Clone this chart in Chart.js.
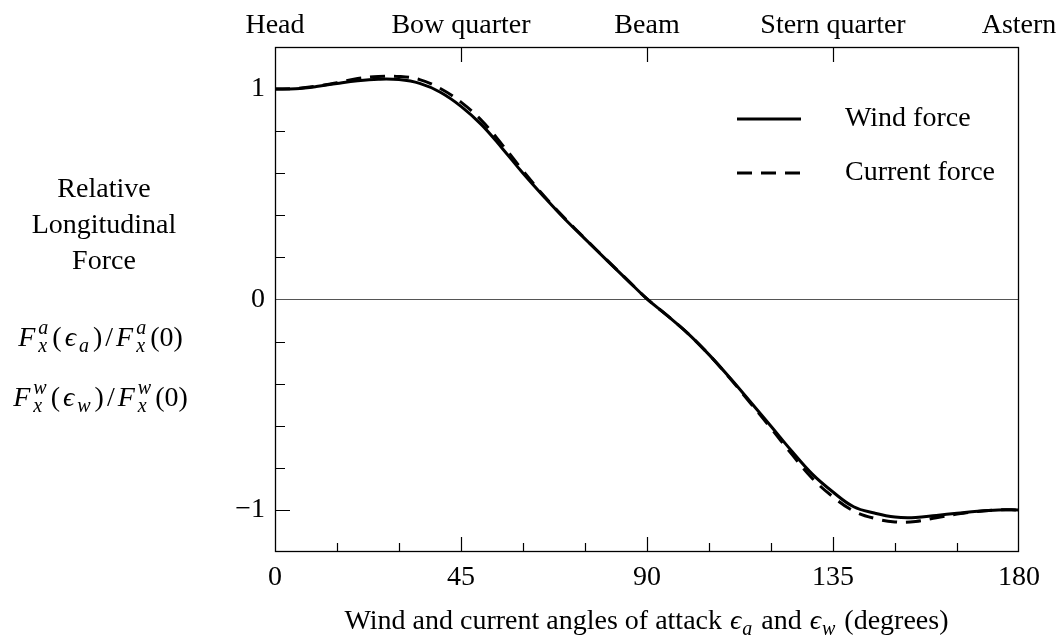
<!DOCTYPE html>
<html>
<head>
<meta charset="utf-8">
<title>Relative longitudinal force</title>
<script src="https://cdn.jsdelivr.net/npm/chart.js@4.4.1/dist/chart.umd.min.js"></script>
<style>
    html, body { margin: 0; padding: 0; background: #fff; }
    #wrap { width: 1063px; height: 642px; }
</style>
</head>
<body>
<div id="wrap"><canvas id="forceChart" width="1063" height="642"></canvas></div>
<script>
// angle of attack (degrees)
var angles = [0, 5, 10, 15, 20, 25, 30, 35, 40, 45, 50, 55, 60, 65, 70, 75, 80, 85, 90,
    95, 100, 105, 110, 115, 120, 125, 130, 135, 140, 145, 150, 155, 160, 165, 170, 175, 180];

// relative longitudinal wind force
var windForce = [1.000, 1.002, 1.012, 1.027, 1.040, 1.047, 1.045, 1.027, 0.985, 0.918,
    0.830, 0.718, 0.600, 0.490, 0.385, 0.288, 0.192, 0.097, 0.003,
    -0.078, -0.163, -0.262, -0.371, -0.486, -0.602, -0.720, -0.830, -0.915, -0.985,
    -1.015, -1.034, -1.036, -1.026, -1.016, -1.006, -1.000, -1.000];

// relative longitudinal current force
var currentForce = [1.000, 1.003, 1.014, 1.030, 1.050, 1.060, 1.060, 1.045, 1.003, 0.938,
    0.850, 0.735, 0.612, 0.494, 0.388, 0.290, 0.193, 0.098, 0.003,
    -0.078, -0.163, -0.262, -0.373, -0.492, -0.612, -0.735, -0.850, -0.938, -1.005,
    -1.040, -1.057, -1.055, -1.037, -1.020, -1.007, -1.000, -1.000];

var seriesNames = ['Wind force', 'Current force'];
var bottomTicks = [0, 45, 90, 135, 180];
var headingLabels = ['Head', 'Bow quarter', 'Beam', 'Stern quarter', 'Astern'];
var yTickLabels = [-1, 0, 1];
var yLabelLines = ['Relative', 'Longitudinal', 'Force'];

var SERIF = '"Liberation Serif", "Times New Roman", "DejaVu Serif", serif';
var FONT_SIZE = 28;

Chart.defaults.font.family = SERIF;
Chart.defaults.font.size = FONT_SIZE;
Chart.defaults.color = '#000';

function toPoints(values) {
    return angles.map(function (a, i) {
        return { x: a, y: values[i] };
    });
}

// draws a row of text pieces, with sub/superscripts, centred on cx
function drawRuns(ctx, runs, cx, base, gap) {
    var big = FONT_SIZE, small = 20;
    gap = gap || 0;
    function font(italic, size) {
        return (italic ? 'italic ' : '') + size + 'px ' + SERIF;
    }
    function width(r) {
        if (r.t !== undefined) {
            ctx.font = font(r.i, big);
            return ctx.measureText(r.t).width + gap;
        }
        ctx.font = font(true, small);
        var w1 = r.sup ? ctx.measureText(r.sup).width : 0;
        var w2 = r.sub ? ctx.measureText(r.sub).width : 0;
        return Math.max(w1, w2) + 1 + gap;
    }
    var total = 0;
    runs.forEach(function (r) { r.w = width(r); total += r.w; });
    var x = cx - total / 2;
    ctx.textAlign = 'left';
    ctx.textBaseline = 'alphabetic';
    ctx.fillStyle = '#000';
    runs.forEach(function (r) {
        if (r.t !== undefined) {
            ctx.font = font(r.i, big);
            ctx.fillText(r.t, x, base);
        } else {
            ctx.font = font(true, small);
            if (r.sup) ctx.fillText(r.sup, x, base - 12);
            if (r.sub) ctx.fillText(r.sub, x, base + 6);
        }
        x += r.w;
    });
}

function ratioRuns(letter) {
    return [
        { t: 'F', i: true }, { sup: letter, sub: 'x' },
        { t: '(' }, { t: '\u03F5', i: true }, { sub: letter },
        { t: ')' }, { t: '/' },
        { t: 'F', i: true }, { sup: letter, sub: 'x' },
        { t: '(0)' }
    ];
}

// box, inward ticks, titles and legend
var decorPlugin = {
    id: 'decor',
    afterDraw: function (chart) {
        var ctx = chart.ctx;
        var a = chart.chartArea;
        var xs = chart.scales.x, ys = chart.scales.y;
        ctx.save();
        ctx.strokeStyle = '#000';
        ctx.lineWidth = 1.3;
        ctx.strokeRect(a.left + 0.5, a.top + 0.5, a.right - a.left - 1, a.bottom - a.top - 1);

        ctx.lineWidth = 1.2;
        ctx.beginPath();
        for (var v = 15; v < 180; v += 15) {
            var px = Math.round(xs.getPixelForValue(v)) + 0.5;
            var major = bottomTicks.indexOf(v) >= 0;
            ctx.moveTo(px, a.bottom);
            ctx.lineTo(px, a.bottom - (major ? 15 : 9));
            if (major) {
                ctx.moveTo(px, a.top);
                ctx.lineTo(px, a.top + 15);
            }
        }
        for (var k = -5; k <= 5; k++) {
            if (k === 0) continue;
            var py = Math.round(ys.getPixelForValue(k * 0.2)) + 0.5;
            ctx.moveTo(a.left, py);
            ctx.lineTo(a.left + (Math.abs(k) === 5 ? 15 : 10), py);
        }
        ctx.stroke();

        // y title
        ctx.font = FONT_SIZE + 'px ' + SERIF;
        ctx.textAlign = 'center';
        ctx.textBaseline = 'alphabetic';
        ctx.fillStyle = '#000';
        yLabelLines.forEach(function (line, i) {
            ctx.fillText(line, 104, 197 + i * 36);
        });
        drawRuns(ctx, ratioRuns('a'), 102, 346, 3);
        drawRuns(ctx, ratioRuns('w'), 102, 406, 3);

        // x title
        drawRuns(ctx, [
            { t: 'Wind and current angles of attack ' },
            { t: '\u03F5', i: true }, { sub: 'a' },
            { t: ' and ' },
            { t: '\u03F5', i: true }, { sub: 'w' },
            { t: ' (degrees)' }
        ], (a.left + a.right) / 2, 629, 1);

        // legend
        chart.data.datasets.forEach(function (ds, i) {
            var ly = 119 + i * 54;
            ctx.beginPath();
            ctx.lineWidth = ds.borderWidth;
            ctx.setLineDash(ds.borderDash || []);
            ctx.moveTo(737, ly);
            ctx.lineTo(801, ly);
            ctx.stroke();
            ctx.setLineDash([]);
            ctx.font = FONT_SIZE + 'px ' + SERIF;
            ctx.textAlign = 'left';
            ctx.textBaseline = 'middle';
            ctx.fillText(ds.label, 845, ly);
        });
        ctx.restore();
    }
};

function fixSize(prop, size) {
    return function (scale) {
        scale[prop] = size;
        scale.paddingLeft = 0;
        scale.paddingRight = 0;
        scale.paddingTop = 0;
        scale.paddingBottom = 0;
    };
}

var ctx = document.getElementById('forceChart').getContext('2d');
var forceChart = new Chart(ctx, {
    type: 'line',
    data: {
        datasets: [{
            label: seriesNames[0],
            data: toPoints(windForce),
            borderColor: '#000',
            borderWidth: 3,
            pointRadius: 0,
            tension: 0.4,
            fill: false
        }, {
            label: seriesNames[1],
            data: toPoints(currentForce),
            borderColor: '#000',
            borderWidth: 3,
            borderDash: [15, 9],
            pointRadius: 0,
            tension: 0.4,
            fill: false
        }]
    },
    options: {
        responsive: false,
        animation: false,
        devicePixelRatio: 1,
        layout: { padding: { left: 0, right: 44, top: 0, bottom: 0 } },
        plugins: {
            legend: { display: false },
            tooltip: { enabled: false }
        },
        scales: {
            x: {
                type: 'linear',
                position: 'bottom',
                min: 0,
                max: 180,
                border: { display: false },
                grid: { display: false, drawTicks: false },
                ticks: {
                    stepSize: 15,
                    autoSkip: false,
                    maxRotation: 0,
                    padding: 9,
                    callback: function (v) {
                        return bottomTicks.indexOf(v) >= 0 ? String(v) : '';
                    }
                },
                afterFit: fixSize('height', 90)
            },
            x2: {
                type: 'linear',
                position: 'top',
                min: 0,
                max: 180,
                border: { display: false },
                grid: { display: false, drawTicks: false },
                ticks: {
                    stepSize: 45,
                    autoSkip: false,
                    maxRotation: 0,
                    padding: 5,
                    callback: function (v) {
                        var i = bottomTicks.indexOf(v);
                        return i >= 0 ? headingLabels[i] : '';
                    }
                },
                afterFit: fixSize('height', 47)
            },
            y: {
                type: 'linear',
                min: -1.2,
                max: 1.2,
                border: { display: false },
                grid: {
                    drawTicks: false,
                    lineWidth: 1,
                    color: function (c) {
                        return c.tick && Math.abs(c.tick.value) < 1e-9 ? '#555' : 'rgba(0,0,0,0)';
                    }
                },
                ticks: {
                    stepSize: 0.2,
                    autoSkip: false,
                    padding: 10,
                    callback: function (v) {
                        var r = Math.round(v);
                        if (Math.abs(v - r) < 1e-6 && yTickLabels.indexOf(r) >= 0) {
                            return r < 0 ? '\u2212' + (-r) : String(r);
                        }
                        return '';
                    }
                },
                afterFit: fixSize('width', 275)
            }
        }
    },
    plugins: [decorPlugin]
});
</script>
</body>
</html>
